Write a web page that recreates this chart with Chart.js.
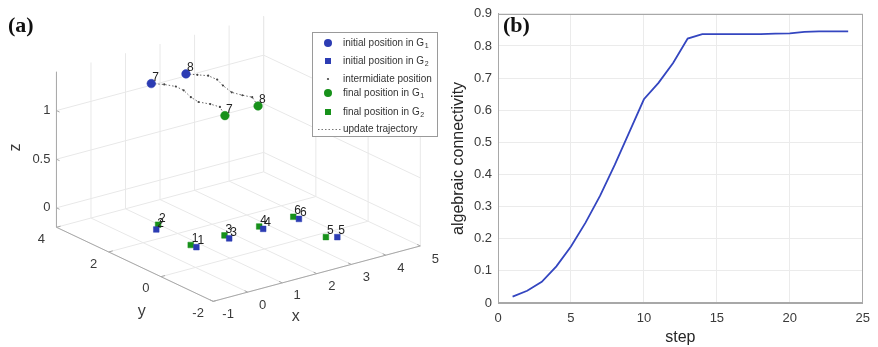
<!DOCTYPE html>
<html>
<head>
<meta charset="utf-8">
<script src="https://cdn.jsdelivr.net/npm/chart.js@4.4.1/dist/chart.umd.min.js"></script>
<style>
  body { margin: 0; background: #fff; }
  #chartA { position: absolute; left: 0; top: 0; }
  #chartB { position: absolute; left: 440px; top: 0; }
</style>
</head>
<body>
<canvas id="chartA" width="440" height="347"></canvas>
<canvas id="chartB" width="438" height="347"></canvas>
<script>
// ---------- panel (a) data: agent positions ----------
const g1Ids = ["7", "8"];
const g1InitX = [1.05, 2.07];
const g1InitY = [3.08, 3.1];
const g1InitZ = [1.2, 1.2];
const g1FinalX = [1.92, 2.91];
const g1FinalY = [1.41, 1.45];
const g1FinalZ = [1.0, 1.0];

const g2Ids = ["1", "2", "3", "4", "5", "6"];
const g2InitX = [0.05, 0, 1, 2, 3.05, 3.05];
const g2InitY = [0.03, 1.5, 0.03, 0.05, -1.4, 0.07];
const g2InitZ = [0, 0, 0, 0, 0, 0];
const g2FinalX = [0.03, 0.22, 1.03, 2.02, 2.84, 3.03];
const g2FinalY = [0.22, 1.72, 0.25, 0.23, -1.24, 0.26];
const g2FinalZ = [0, 0, 0, 0, 0, 0];

// update trajectories of agents 7 and 8 (start, intermediate, final)
const traj7X = [1.05, 1.35, 1.58, 1.67, 1.63, 1.68, 1.91, 2.07, 1.92];
const traj7Y = [3.08, 2.98, 2.84, 2.66, 2.33, 2.1, 1.96, 1.8, 1.41];
const traj7Z = [1.2, 1.175, 1.15, 1.125, 1.1, 1.075, 1.05, 1.025, 1.0];
const traj8X = [2.07, 2.34, 2.6, 2.71, 2.68, 2.67, 2.85, 3.05, 2.91];
const traj8Y = [3.1, 3.02, 2.95, 2.75, 2.49, 2.14, 1.97, 1.86, 1.45];
const traj8Z = [1.2, 1.175, 1.15, 1.125, 1.1, 1.075, 1.05, 1.025, 1.0];

const xTicks = [-1, 0, 1, 2, 3, 4, 5];
const yTicks = [-2, 0, 2, 4];
const zTicks = [0, 0.5, 1];
const xLim = [-1, 5];
const yLim = [-2, 4];
const zLim = [-0.2, 1.4];

// ---------- panel (b) data ----------
const steps = [1, 2, 3, 4, 5, 6, 7, 8, 9, 10, 11, 12, 13, 14, 15, 16, 17, 18, 19, 20, 21, 22, 23, 24];
const connectivity = [0.02, 0.038, 0.066, 0.114, 0.176, 0.25, 0.334, 0.43, 0.532, 0.634, 0.685, 0.747,
  0.823, 0.837, 0.837, 0.837, 0.837, 0.837, 0.838, 0.839, 0.844, 0.845, 0.845, 0.845];
const bXTicks = [0, 5, 10, 15, 20, 25];
const bYTicks = [0, 0.1, 0.2, 0.3, 0.4, 0.5, 0.6, 0.7, 0.8, 0.9];

const blue = "#2c3cb3";
const green = "#17911a";
const textColor = "#3a3a3a";
const sans = "'Liberation Sans', Arial, sans-serif";

// simple oblique view (matches the MATLAB camera), result in canvas units
const VIEW = { ox: 194.9, oy: 250.1, ex: [35.3, -9.5], ey: [-26.7, -12.7], ez: [0, -100] };
function proj(x, y, z) {
  return {
    x: VIEW.ox + x * VIEW.ex[0] + y * VIEW.ey[0] + z * VIEW.ez[0],
    y: VIEW.oy + x * VIEW.ex[1] + y * VIEW.ey[1] + z * VIEW.ez[1],
  };
}
function projList(xs, ys, zs) {
  return xs.map((x, i) => proj(x, ys[i], zs[i]));
}

// grid on floor and two back walls
const gridSegs = [];
xTicks.forEach((x) => {
  gridSegs.push([proj(x, yLim[0], zLim[0]), proj(x, yLim[1], zLim[0])]);
  gridSegs.push([proj(x, yLim[1], zLim[0]), proj(x, yLim[1], zLim[1])]);
});
yTicks.forEach((y) => {
  gridSegs.push([proj(xLim[0], y, zLim[0]), proj(xLim[1], y, zLim[0])]);
  gridSegs.push([proj(xLim[1], y, zLim[0]), proj(xLim[1], y, zLim[1])]);
});
zTicks.forEach((z) => {
  gridSegs.push([proj(xLim[0], yLim[1], z), proj(xLim[1], yLim[1], z)]);
  gridSegs.push([proj(xLim[1], yLim[0], z), proj(xLim[1], yLim[1], z)]);
});

const axisSegs = [
  [proj(xLim[0], yLim[0], zLim[0]), proj(xLim[1], yLim[0], zLim[0])],
  [proj(xLim[0], yLim[0], zLim[0]), proj(xLim[0], yLim[1], zLim[0])],
  [proj(xLim[0], yLim[1], zLim[0]), proj(xLim[0], yLim[1], zLim[1])],
];
xTicks.forEach((x) => axisSegs.push([proj(x, yLim[0], zLim[0]), proj(x, yLim[0] + 0.12, zLim[0])]));
yTicks.forEach((y) => axisSegs.push([proj(xLim[0], y, zLim[0]), proj(xLim[0] + 0.12, y, zLim[0])]));
zTicks.forEach((z) => axisSegs.push([proj(xLim[0], yLim[1], z), proj(xLim[0], yLim[1] - 0.12, z)]));

const lineSet = (seg, color, order) => ({
  data: seg, showLine: true, borderColor: color, borderWidth: 1,
  pointRadius: 0, order: order,
});

function trajSet(pts) {
  return {
    data: pts, showLine: true, borderColor: "#6a6a6a", borderWidth: 1,
    borderDash: [1.5, 2],
    pointRadius: pts.map((p, i) => (i === 0 || i === pts.length - 1 ? 0 : 1.1)),
    pointBackgroundColor: "#444", pointBorderWidth: 0, order: 5,
  };
}

const markerSet = (pts, color, style, r, order) => ({
  data: pts, showLine: false, pointStyle: style, pointRadius: r,
  pointBackgroundColor: color, pointBorderColor: color, pointBorderWidth: 0.5, order: order,
});

const g1Init = projList(g1InitX, g1InitY, g1InitZ);
const g1Final = projList(g1FinalX, g1FinalY, g1FinalZ);
const g2Init = projList(g2InitX, g2InitY, g2InitZ);
const g2Final = projList(g2FinalX, g2FinalY, g2FinalZ);

function drawSubText(ctx, x, y, main, sub) {
  ctx.fillText(main, x, y);
  if (!sub) return;
  const w = ctx.measureText(main).width;
  const f = ctx.font;
  ctx.font = "7px " + sans;
  ctx.fillText(sub, x + w + 0.5, y + 3);
  ctx.font = f;
}

const panelAPlugin = {
  id: "panelA",
  afterDatasetsDraw(chart) {
    const { ctx, scales } = chart;
    const px = (p) => [scales.x.getPixelForValue(p.x), scales.y.getPixelForValue(p.y)];
    ctx.save();
    ctx.fillStyle = textColor;

    // tick labels
    ctx.font = "13px " + sans;
    ctx.textAlign = "center";
    ctx.textBaseline = "middle";
    xTicks.forEach((x) => {
      const [u, v] = px(proj(x, yLim[0], zLim[0]));
      ctx.fillText(String(x), u + 15, v + 13);
    });
    yTicks.forEach((y) => {
      const [u, v] = px(proj(xLim[0], y, zLim[0]));
      ctx.fillText(String(y), u - 15, v + 12);
    });
    ctx.textAlign = "right";
    zTicks.forEach((z) => {
      const [u, v] = px(proj(xLim[0], yLim[1], z));
      ctx.fillText(String(z), u - 6, v);
    });

    // axis titles
    ctx.font = "16px " + sans;
    ctx.textAlign = "center";
    let [u, v] = px(proj(2, yLim[0], zLim[0]));
    ctx.fillText("x", u - 21, v + 43);
    [u, v] = px(proj(xLim[0], 1, zLim[0]));
    ctx.fillText("y", u + 7, v + 47);
    [u, v] = px(proj(xLim[0], yLim[1], 0.6));
    ctx.save();
    ctx.translate(u - 41, v - 2);
    ctx.rotate(-Math.PI / 2);
    ctx.fillText("z", 0, 0);
    ctx.restore();

    // agent numbers
    ctx.font = "12px " + sans;
    ctx.textAlign = "left";
    ctx.fillStyle = "#222";
    const label = (pts, ids) => pts.forEach((p, i) => {
      const [a, b] = px(p);
      ctx.fillText(ids[i], a + 1, b - 6);
    });
    label(g2Final, g2Ids);
    label(g2Init, g2Ids);
    label(g1Init, g1Ids);
    label(g1Final, g1Ids);

    // panel letter
    ctx.fillStyle = "#111";
    ctx.font = "bold 22px 'Liberation Serif', 'Times New Roman', serif";
    ctx.textAlign = "left";
    ctx.textBaseline = "alphabetic";
    ctx.fillText("(a)", 8, 32);

    // legend
    const lx = 312, ly = 32, lw = 126, lh = 105;
    ctx.fillStyle = "#fff";
    ctx.fillRect(lx, ly, lw, lh);
    ctx.strokeStyle = "#9a9a9a";
    ctx.lineWidth = 1;
    ctx.strokeRect(lx + 0.5, ly + 0.5, lw - 1, lh - 1);
    const mx = 328, tx = 343;
    const rows = [43, 61, 79, 93, 112, 129];
    ctx.font = "10px " + sans;
    ctx.textBaseline = "middle";
    ctx.fillStyle = blue;
    ctx.beginPath(); ctx.arc(mx, rows[0], 4, 0, 2 * Math.PI); ctx.fill();
    ctx.fillRect(mx - 3, rows[1] - 3, 6, 6);
    ctx.fillStyle = "#444";
    ctx.beginPath(); ctx.arc(mx, rows[2], 1.1, 0, 2 * Math.PI); ctx.fill();
    ctx.fillStyle = green;
    ctx.beginPath(); ctx.arc(mx, rows[3], 4, 0, 2 * Math.PI); ctx.fill();
    ctx.fillRect(mx - 3, rows[4] - 3, 6, 6);
    ctx.strokeStyle = "#777";
    ctx.setLineDash([1.5, 2]);
    ctx.beginPath(); ctx.moveTo(318, rows[5] + 0.5); ctx.lineTo(341, rows[5] + 0.5); ctx.stroke();
    ctx.setLineDash([]);
    ctx.fillStyle = "#333";
    drawSubText(ctx, tx, rows[0], "initial position in G", "1");
    drawSubText(ctx, tx, rows[1], "initial position in G", "2");
    drawSubText(ctx, tx, rows[2], "intermidiate position");
    drawSubText(ctx, tx, rows[3], "final position in G", "1");
    drawSubText(ctx, tx, rows[4], "final position in G", "2");
    drawSubText(ctx, tx, rows[5], "update trajectory");
    ctx.restore();
  },
};

new Chart(document.getElementById("chartA"), {
  type: "scatter",
  data: {
    datasets: [
      ...gridSegs.map((s) => lineSet(s, "#e8e8e8", 20)),
      ...axisSegs.map((s) => lineSet(s, "#a8a8a8", 15)),
      trajSet(projList(traj7X, traj7Y, traj7Z)),
      trajSet(projList(traj8X, traj8Y, traj8Z)),
      markerSet(g2Final, green, "rect", 4, 4),
      markerSet(g2Init, blue, "rect", 4, 3),
      markerSet(g1Init, blue, "circle", 4.3, 2),
      markerSet(g1Final, green, "circle", 4.3, 1),
    ],
  },
  options: {
    responsive: false,
    animation: false,
    layout: { padding: 0 },
    plugins: { legend: { display: false }, tooltip: { enabled: false } },
    scales: {
      x: { type: "linear", display: false, min: 0, max: 440 },
      y: { type: "linear", display: false, min: 0, max: 347, reverse: true },
    },
    elements: { line: { tension: 0 }, point: { hoverRadius: 0 } },
  },
  plugins: [panelAPlugin],
});

// ---------- panel (b) ----------
const boxPlugin = {
  id: "boxB",
  afterDraw(chart) {
    const { ctx, chartArea: a } = chart;
    ctx.save();
    ctx.strokeStyle = "#a8a8a8";
    ctx.lineWidth = 1;
    ctx.strokeRect(Math.round(a.left) + 0.5, Math.round(a.top) + 0.5,
      Math.round(a.right - a.left) - 1, Math.round(a.bottom - a.top) - 1);
    ctx.fillStyle = "#111";
    ctx.font = "bold 22px 'Liberation Serif', 'Times New Roman', serif";
    ctx.fillText("(b)", 63, 32);
    ctx.restore();
  },
};

new Chart(document.getElementById("chartB"), {
  type: "line",
  data: {
    datasets: [{
      data: steps.map((s, i) => ({ x: s, y: connectivity[i] })),
      borderColor: "#3446c0",
      borderWidth: 1.8,
      pointRadius: 0,
      tension: 0,
    }],
  },
  options: {
    responsive: false,
    animation: false,
    layout: { padding: { top: 10, right: 10, left: 0, bottom: 0 } },
    plugins: { legend: { display: false }, tooltip: { enabled: false } },
    scales: {
      x: {
        type: "linear", min: 0, max: 25,
        afterBuildTicks: (s) => { s.ticks = bXTicks.map((v) => ({ value: v })); },
        afterFit: (s) => { s.height = 44; },
        grid: { color: "#ebebeb", drawTicks: false },
        border: { color: "#a8a8a8" },
        ticks: { color: textColor, font: { size: 13, family: sans }, padding: 8 },
        title: { display: true, text: "step", color: "#262626", font: { size: 16, family: sans }, padding: { top: 3, bottom: 0 } },
      },
      y: {
        type: "linear", min: 0, max: 0.9,
        afterBuildTicks: (s) => { s.ticks = bYTicks.map((v) => ({ value: v })); },
        afterFit: (s) => { s.width = 58; },
        grid: { color: "#ebebeb", drawTicks: false },
        border: { color: "#a8a8a8" },
        ticks: { color: textColor, font: { size: 13, family: sans }, padding: 6, callback: (v) => String(+v.toFixed(1)) },
        title: { display: true, text: "algebraic connectivity", color: "#262626", font: { size: 16, family: sans }, padding: { top: 9, bottom: 0 } },
      },
    },
  },
  plugins: [boxPlugin],
});
</script>
</body>
</html>
